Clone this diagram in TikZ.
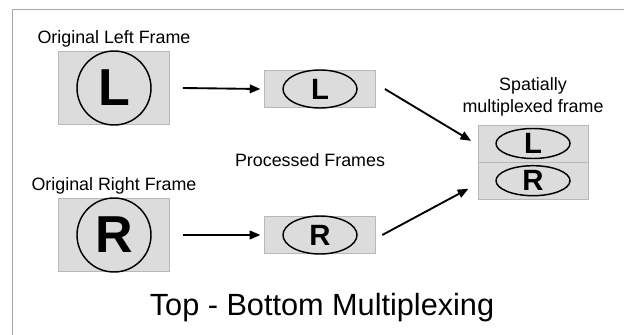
\documentclass[tikz,border=0pt]{standalone}
\usepackage{fontspec}
\setmainfont{Liberation Sans}
\usetikzlibrary{arrows.meta, positioning, shapes.geometric}

\definecolor{framefill}{HTML}{DCDCDC}
\definecolor{frameline}{HTML}{B8B8B8}

\begin{document}
\begin{tikzpicture}[
    x=0.75pt, y=-0.75pt,
    every node/.style={align=center, inner sep=0pt},
    arrow/.style={-{Triangle[length=8pt, width=6.5pt]}, line width=1.4pt},
    bigframe/.style={rectangle, draw=frameline, fill=framefill, minimum width=83pt, minimum height=55pt},
    smallframe/.style={rectangle, draw=frameline, fill=framefill, minimum width=83pt, minimum height=28pt},
    halfframe/.style={rectangle, draw=frameline, fill=framefill, minimum width=82.5pt, minimum height=27.5pt},
    bigletter/.style={circle, draw, line width=1.1pt, minimum size=55.5pt, font=\fontsize{39}{39}\selectfont\bfseries},
    smallletter/.style={ellipse, draw, line width=1.1pt, minimum width=55.5pt, minimum height=28.5pt, font=\fontsize{22}{22}\selectfont\bfseries},
    muxletter/.style={ellipse, draw, line width=1.1pt, minimum width=55.5pt, minimum height=22.5pt, font=\fontsize{22}{22}\selectfont\bfseries},
    caption/.style={font=\fontsize{13.4}{16.5}\selectfont}
]
\useasboundingbox (0,0) rectangle (624,335);
\draw[gray!70] (12,335) -- (12,9) -- (624,9);

% original frames
\node[bigframe] (LF) at (114,88) {};
\node[bigletter] (LC) at (LF) {L};
\node[caption, above=3pt of LF] (LT) {Original Left Frame};
\node[bigframe] (RF) at (114,235) {};
\node[bigletter] (RC) at (RF) {R};
\node[caption, above=3pt of RF] (RT) {Original Right Frame};

% processed frames
\node[smallframe] (LP) at (320,89) {};
\node[smallletter] (LE) at (LP) {L};
\node[smallframe] (RP) at (320,235) {};
\node[smallletter] (RE) at (RP) {R};
\node[caption] (PT) at (310,160) {Processed Frames};

% multiplexed frame
\node[halfframe] (MT) at (533,143.5) {};
\node[halfframe, below=0pt of MT] (MB) {};
\node[muxletter] (ML) at (MT) {L};
\node[muxletter] (MR) at (MB) {R};
\node[caption, above=6pt of MT] (MX) {Spatially\\multiplexed frame};

\node[font=\fontsize{23}{26}\selectfont] (title) at (322,308) {Top - Bottom Multiplexing};

\draw[arrow] ([xshift=10pt]LF.east) -- ([xshift=-3pt]LP.west);
\draw[arrow] ([xshift=10pt]RF.east) -- ([xshift=-3pt]RP.west);
\draw[arrow] ([xshift=7pt]LP.east) -- ([xshift=-5pt,yshift=2pt]MT.west);
\draw[arrow] ([xshift=5pt]RP.east) -- ([xshift=-7pt,yshift=-6pt]MB.west);
\end{tikzpicture}
\end{document}
